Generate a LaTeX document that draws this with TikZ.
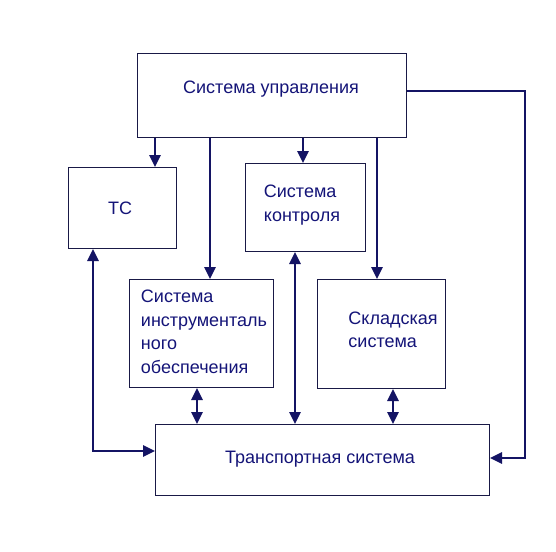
\documentclass[tikz,border=0pt]{standalone}
\usepackage{fontspec}
\setmainfont{Liberation Sans}
\usetikzlibrary{arrows.meta}
\definecolor{boxc}{RGB}{25,25,70}
\definecolor{txtc}{RGB}{20,20,120}
\definecolor{linec}{RGB}{20,20,100}
\begin{document}
\begin{tikzpicture}[x=1pt,y=-1pt,
  sysbox/.style={draw=boxc, line width=1pt, fill=white, inner sep=0pt, anchor=north west},
  lbl/.style={text=txtc, font=\fontsize{18}{23.5}\selectfont, align=left, inner sep=0pt},
  conn/.style={draw=linec, line width=2.6pt},
  tip/.style={-{Triangle[length=12pt,width=11pt]}},
  dtip/.style={{Triangle[length=12pt,width=11pt]}-{Triangle[length=12pt,width=11pt]}}]
\useasboundingbox[fill=white] (0,0) rectangle (556,551);
% boxes
\node[sysbox, minimum width=269pt, minimum height=84pt] (up) at (137,53) {};
\node[sysbox, minimum width=108pt, minimum height=81pt] (tc) at (68,167) {};
\node[sysbox, minimum width=120pt, minimum height=88pt] (kon) at (245,163) {};
\node[sysbox, minimum width=144pt, minimum height=108pt] (ins) at (129,279) {};
\node[sysbox, minimum width=128pt, minimum height=109pt] (skl) at (317,279) {};
\node[sysbox, minimum width=334pt, minimum height=71pt] (tr) at (155,424) {};
% labels
\node[lbl] (tup) at (271,89) {Система управления};
\node[lbl] (ttc) at (120,208) {ТС};
\node[lbl] (tkon) at (302,205) {Система\\контроля};
\node[lbl] (tins) at (204,332) {Система\\инструменталь\\ного\\обеспечения};
\node[lbl] (tskl) at (393,330) {Складская\\система};
\node[lbl] (ttr) at (320,459) {Транспортная система};
% connectors from control system
\draw[conn,tip] (up.south -| 155,0) -- (tc.north -| 155,0);
\draw[conn,tip] (up.south -| 210,0) -- (ins.north -| 210,0);
\draw[conn,tip] (up.south -| 303,0) -- (kon.north -| 303,0);
\draw[conn,tip] (up.south -| 377,0) -- (skl.north -| 377,0);
\coordinate (r1) at (525,91);
\coordinate (r2) at (525,458);
\draw[conn,tip] (up.east |- r1) -- (r1) -- (r2) -- (tr.east |- r2);
% to transport system
\coordinate (l1) at (93,451);
\draw[conn,dtip] (tr.west |- l1) -- (l1) -- (tc.south -| l1);
\draw[conn,dtip] (ins.south -| 197,0) -- (tr.north -| 197,0);
\draw[conn,dtip] (kon.south -| 295,0) -- (tr.north -| 295,0);
\draw[conn,dtip] (skl.south -| 393,0) -- (tr.north -| 393,0);
\end{tikzpicture}
\end{document}
